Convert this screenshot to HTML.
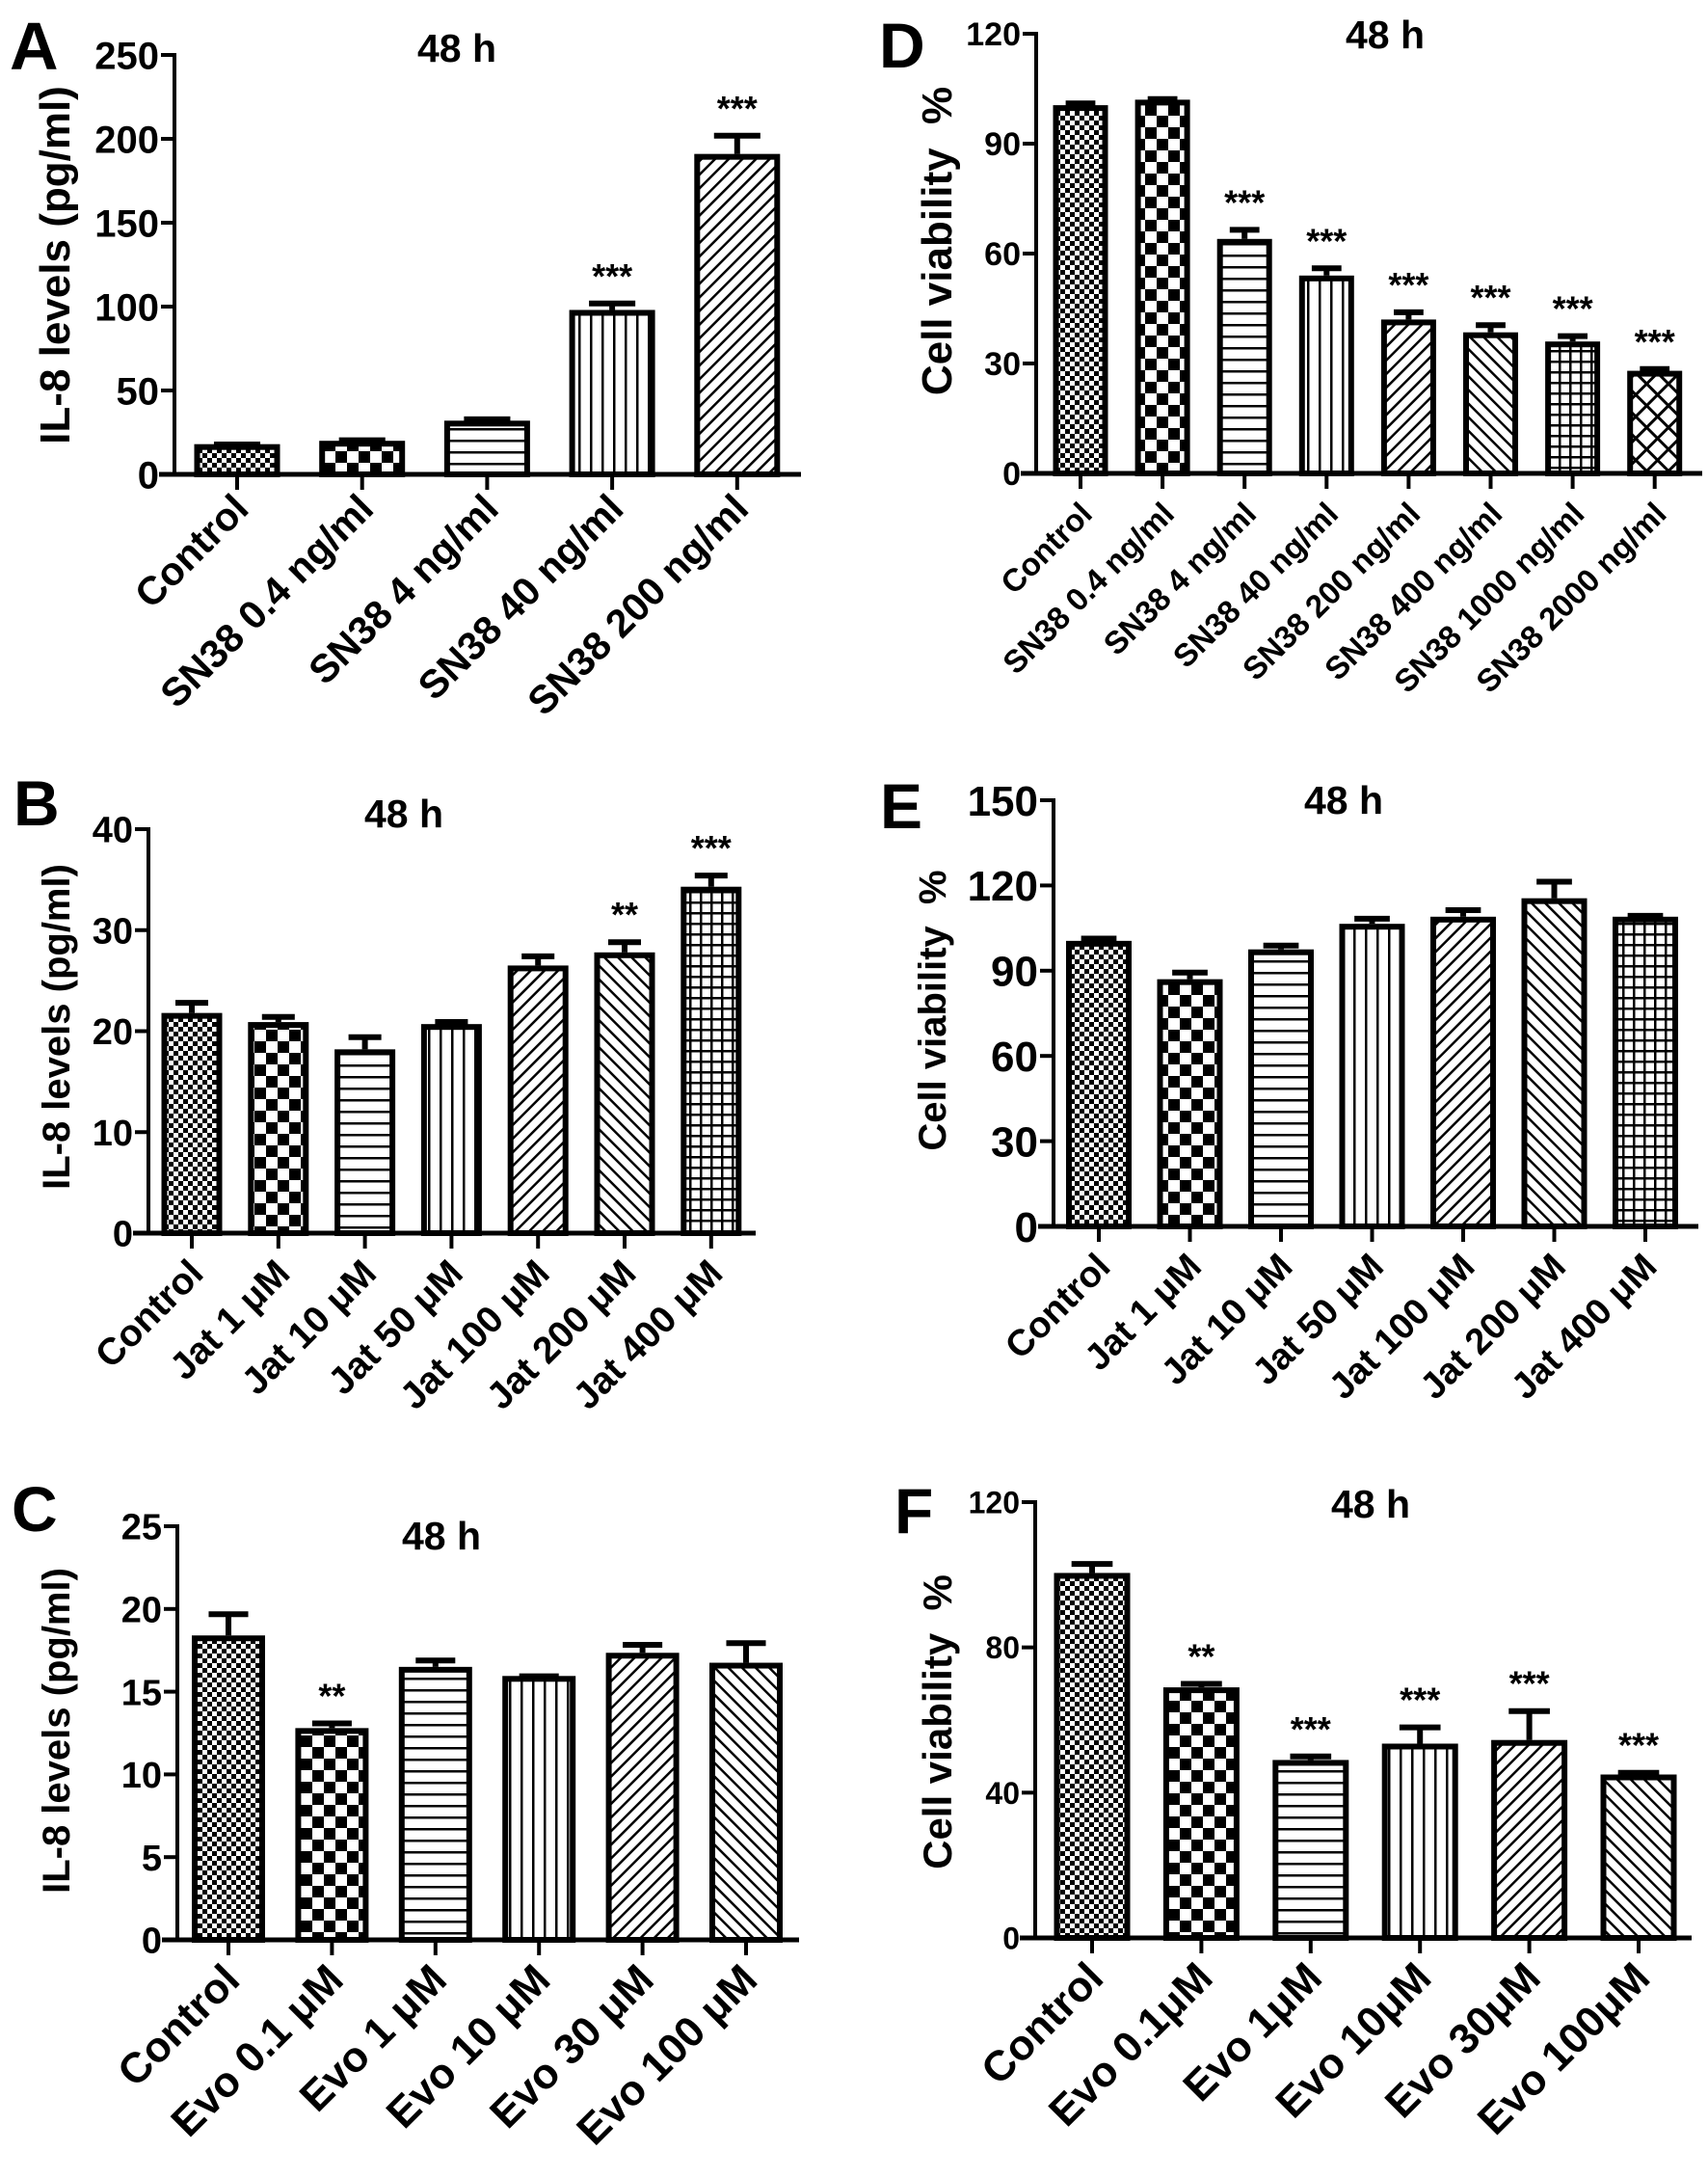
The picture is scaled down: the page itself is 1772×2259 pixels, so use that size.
<!DOCTYPE html>
<html><head><meta charset="utf-8">
<style>
html,body{margin:0;padding:0;background:#fff;}
svg{display:block;}
text{font-family:"Liberation Sans",sans-serif;font-weight:bold;fill:#000;}
.n{font-family:"Liberation Sans Narrow","Liberation Sans",sans-serif;}
</style></head>
<body>
<svg id="fig" width="1772" height="2259" viewBox="0 0 1772 2259" xmlns="http://www.w3.org/2000/svg">
<defs>
<pattern id="p0" width="10" height="10" patternUnits="userSpaceOnUse"><rect width="10" height="10" fill="#fff"/><rect width="5" height="5" fill="#000"/><rect x="5" y="5" width="5" height="5" fill="#000"/></pattern>
<pattern id="p1" width="24" height="24" patternUnits="userSpaceOnUse"><rect width="24" height="24" fill="#fff"/><rect width="12" height="12" fill="#000"/><rect x="12" y="12" width="12" height="12" fill="#000"/></pattern>
<pattern id="p2" width="12" height="12" patternUnits="userSpaceOnUse"><rect width="12" height="12" fill="#fff"/><rect y="0" width="12" height="2.5" fill="#000"/></pattern>
<pattern id="p3" width="12" height="12" patternUnits="userSpaceOnUse"><rect width="12" height="12" fill="#fff"/><rect x="0" width="2.5" height="12" fill="#000"/></pattern>
<pattern id="p4" width="10" height="10" patternUnits="userSpaceOnUse" patternTransform="rotate(45)"><rect width="10" height="10" fill="#fff"/><rect width="2.5" height="10" fill="#000"/></pattern>
<pattern id="p5" width="10" height="10" patternUnits="userSpaceOnUse" patternTransform="rotate(-45)"><rect width="10" height="10" fill="#fff"/><rect width="2.5" height="10" fill="#000"/></pattern>
<pattern id="p6" width="11" height="11" patternUnits="userSpaceOnUse"><rect width="11" height="11" fill="#fff"/><rect width="2.5" height="11" fill="#000"/><rect width="11" height="2.5" fill="#000"/></pattern>
<pattern id="p7" width="16" height="16" patternUnits="userSpaceOnUse" patternTransform="rotate(45)"><rect width="16" height="16" fill="#fff"/><rect width="3" height="16" fill="#000"/><rect width="16" height="3" fill="#000"/></pattern>
</defs>
</svg>
<script>
// ---- Panel A data ----
const catsA = ["Control","SN38 0.4 ng/ml","SN38 4 ng/ml","SN38 40 ng/ml","SN38 200 ng/ml"];
const valsA = [18, 20, 32, 98, 191];
const errsA = [1, 1.5, 2, 5, 12];
const starsA = ["","","","***","***"];
const ticksA = [0,50,100,150,200,250];
// ---- Panel B data ----
const catsB = ["Control","Jat 1 \u03bcM","Jat 10 \u03bcM","Jat 50 \u03bcM","Jat 100 \u03bcM","Jat 200 \u03bcM","Jat 400 \u03bcM"];
const valsB = [21.8, 20.9, 18.2, 20.7, 26.5, 27.8, 34.3];
const errsB = [1.2, 0.7, 1.4, 0.4, 1.1, 1.2, 1.3];
const starsB = ["","","","","","**","***"];
const ticksB = [0,10,20,30,40];
// ---- Panel C data ----
const catsC = ["Control","Evo 0.1 \u03bcM","Evo 1 \u03bcM","Evo 10 \u03bcM","Evo 30 \u03bcM","Evo 100 \u03bcM"];
const valsC = [18.4, 12.8, 16.5, 15.95, 17.35, 16.75];
const errsC = [1.4, 0.4, 0.5, 0.1, 0.6, 1.3];
const starsC = ["","**","","","",""];
const ticksC = [0,5,10,15,20,25];
// ---- Panel D data ----
const catsD = ["Control","SN38 0.4 ng/ml","SN38 4 ng/ml","SN38 40 ng/ml","SN38 200 ng/ml","SN38 400 ng/ml","SN38 1000 ng/ml","SN38 2000 ng/ml"];
const valsD = [100.5, 102, 64, 54, 42, 38.5, 36, 28];
const errsD = [1, 0.7, 3, 2.5, 2.5, 2.5, 2, 1];
const starsD = ["","","***","***","***","***","***","***"];
const ticksD = [0,30,60,90,120];
// ---- Panel E data ----
const catsE = ["Control","Jat 1 \u03bcM","Jat 10 \u03bcM","Jat 50 \u03bcM","Jat 100 \u03bcM","Jat 200 \u03bcM","Jat 400 \u03bcM"];
const valsE = [100.5, 87, 97.5, 106.5, 109, 115.5, 109];
const errsE = [1.5, 3, 2, 2.5, 3, 6.5, 1];
const starsE = ["","","","","","",""];
const ticksE = [0,30,60,90,120,150];
// ---- Panel F data ----
const catsF = ["Control","Evo 0.1\u03bcM","Evo 1\u03bcM","Evo 10\u03bcM","Evo 30\u03bcM","Evo 100\u03bcM"];
const valsF = [100.5, 69, 49, 53.5, 54.5, 45];
const errsF = [3, 1.5, 1.5, 5, 8.5, 1];
const starsF = ["","**","***","***","***","***"];
const ticksF = [0,40,80,120];

const svg = document.getElementById('fig');
const NS = 'http://www.w3.org/2000/svg';
function mk(tag, attrs, parent){const e=document.createElementNS(NS,tag);for(const k in attrs)e.setAttribute(k,attrs[k]);(parent||svg).appendChild(e);return e;}

const CV = 'Cell viability\u00a0\u00a0%';
const panels = [
 {id:'a',letter:'A',lx:10,ly:72,lsize:70,cats:catsA,vals:valsA,errs:errsA,stars:starsA,ticks:ticksA,
  x0:181,x1:831,y0:492,yTop:57,first:246,step:129.7,bw:89,title:'48 h',tx:474,ty:64,
  ytitle:'IL-8 levels (pg/ml)',ytx:72,yty:275,ytsize:44,tfs:40,xfs:41,xoff:38,pat:[0,1,2,3,4]},
 {id:'b',letter:'B',lx:14,ly:856,lsize:66,cats:catsB,vals:valsB,errs:errsB,stars:starsB,ticks:ticksB,
  x0:154,x1:784,y0:1279,yTop:860,first:199,step:89.8,bw:63,title:'48 h',tx:419,ty:858,
  ytitle:'IL-8 levels (pg/ml)',ytx:72,yty:1065,ytsize:40,tfs:38,xfs:39,xoff:44,pat:[0,1,2,3,4,5,6]},
 {id:'c',letter:'C',lx:12,ly:1588,lsize:66,cats:catsC,vals:valsC,errs:errsC,stars:starsC,ticks:ticksC,
  x0:184,x1:829,y0:2012,yTop:1583,first:237,step:107.4,bw:76,title:'48 h',tx:458,ty:1607,
  ytitle:'IL-8 levels (pg/ml)',ytx:72,yty:1795,ytsize:40,tfs:38,xfs:44,xoff:44,pat:[0,1,2,3,4,5]},
 {id:'d',letter:'D',lx:912,ly:70,lsize:66,cats:catsD,vals:valsD,errs:errsD,stars:starsD,ticks:ticksD,
  x0:1075,x1:1766,y0:491,yTop:35,first:1121,step:85.1,bw:57,title:'48 h',tx:1437,ty:50,
  ytitle:CV,ytx:987,yty:250,ytsize:44,tfs:34,xfs:33,xoff:44,pat:[0,1,2,3,4,5,6,7]},
 {id:'e',letter:'E',lx:913,ly:859,lsize:66,cats:catsE,vals:valsE,errs:errsE,stars:starsE,ticks:ticksE,
  x0:1093,x1:1762,y0:1272,yTop:830,first:1140,step:94.5,bw:68,title:'48 h',tx:1394,ty:844,
  ytitle:CV,ytx:981,yty:1048,ytsize:40,tfs:44,xfs:38,xoff:44,pat:[0,1,2,3,4,5,6]},
 {id:'f',letter:'F',lx:928,ly:1590,lsize:66,cats:catsF,vals:valsF,errs:errsF,stars:starsF,ticks:ticksF,
  x0:1074,x1:1755,y0:2010,yTop:1558,first:1133,step:113.4,bw:79,title:'48 h',tx:1422,ty:1574,
  ytitle:CV,ytx:987,yty:1786,ytsize:42,tfs:32,xfs:44,xoff:44,pat:[0,1,2,3,4,5]}
];

panels.forEach(p=>{
  const g = mk('g',{});
  
  
  const maxV = p.ticks[p.ticks.length-1];
  const y = v => p.y0 - (v/maxV)*(p.y0-p.yTop);
  const x = i => p.first + i*p.step;

  const L = mk('text',{x:p.lx,y:p.ly,'font-size':p.lsize},g); L.textContent=p.letter;
  
  

  const T = mk('text',{x:p.tx,y:p.ty,'font-size':41,'text-anchor':'middle',class:'n'},g); T.textContent=p.title;
  
  

  const YT = mk('text',{x:p.ytx,y:p.yty,'font-size':p.ytsize,'text-anchor':'middle',transform:`rotate(-90 ${p.ytx} ${p.yty})`},g); YT.textContent=p.ytitle;
  
  

  p.vals.forEach((v,i)=>{
    const cx=x(i), top=y(v);
    const r = mk('rect',{x:cx-p.bw/2+3,y:top+3,width:p.bw-6,height:Math.max(0,p.y0-top-3),fill:`url(#p${p.pat[i]})`,stroke:'#000','stroke-width':6},g);
    
    
    const et = y(v+p.errs[i]);
    const e1 = mk('line',{x1:cx,x2:cx,y1:top,y2:et,stroke:'#000','stroke-width':6},g);
    
    
    const e2 = mk('line',{x1:cx-p.bw*0.27,x2:cx+p.bw*0.27,y1:et+2,y2:et+2,stroke:'#000','stroke-width':6},g);
    
    
    if(p.stars[i]){
      const s = mk('text',{x:cx,y:et-14,'font-size':36,'text-anchor':'middle',class:'n'},g); s.textContent=p.stars[i];
      
      
    }
    const tk = mk('line',{x1:cx,x2:cx,y1:p.y0,y2:p.y0+16,stroke:'#000','stroke-width':4},g);
    
    
    const ax=cx+14, ay=p.y0+p.xoff;
    const lb = mk('text',{x:ax,y:ay,'font-size':p.xfs,'text-anchor':'end',transform:`rotate(-45 ${ax} ${ay})`},g); lb.textContent=p.cats[i];
    
    
  });

  const ya = mk('line',{x1:p.x0,x2:p.x0,y1:p.yTop-2,y2:p.y0+2,stroke:'#000','stroke-width':4},g);
  
  
  const xa = mk('line',{x1:p.x0-16,x2:p.x1,y1:p.y0,y2:p.y0,stroke:'#000','stroke-width':5},g);
  
  
  p.ticks.forEach(t=>{
    const ty=y(t);
    const tl = mk('line',{x1:p.x0-14,x2:p.x0,y1:ty,y2:ty,stroke:'#000','stroke-width':4},g);
    
    
    const tt = mk('text',{x:p.x0-16,y:ty+p.tfs*0.36,'font-size':p.tfs,'text-anchor':'end',class:'n'},g); tt.textContent=String(t);
    
    
  });
});
</script>
</body></html>
